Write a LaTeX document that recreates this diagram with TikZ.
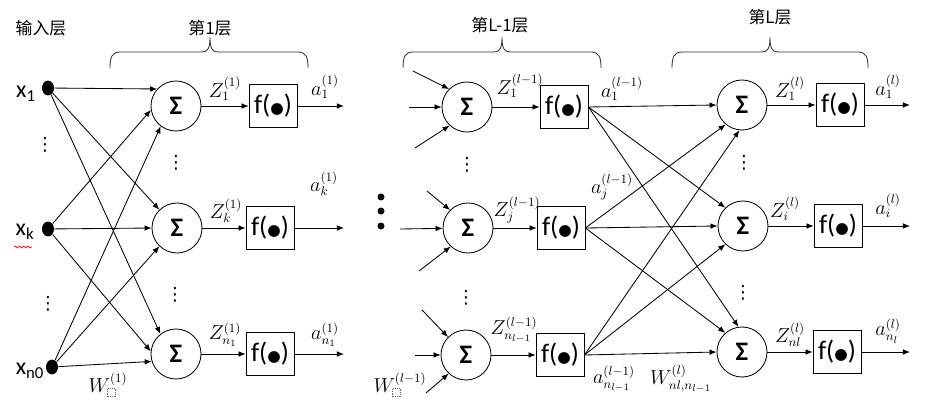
\documentclass[tikz,border=0pt]{standalone}
\usepackage[no-math]{fontspec}
\setmainfont{Carlito}
\newfontfamily\cjk{Noto Sans CJK SC}
\newfontfamily\dejavu{DejaVu Sans}
\usetikzlibrary{arrows.meta,shapes.geometric,decorations.pathmorphing}
\newcommand\phbox{\tikz[baseline=0pt]\draw[densely dotted,line width=0.3pt,black!60] (0pt,-1pt) rectangle (5.5pt,5pt);}
\newcommand\fdot{f({\dejavu\fontsize{11}{11}\selectfont ●})}
\tikzset{
  sum/.style={circle,draw,minimum size=1.25cm,inner sep=0pt,font=\fontsize{19}{20}\selectfont\bfseries},
  act/.style={rectangle,draw,minimum width=1.2cm,minimum height=1.075cm,inner sep=0pt,font=\fontsize{19}{20}\selectfont},
  inp/.style={ellipse,fill=black,minimum width=0.3cm,minimum height=0.37cm,inner sep=0pt},
  xlab/.style={font=\fontsize{17}{20}\selectfont,inner sep=0pt},
  lab/.style={font=\fontsize{13.5}{15}\selectfont,inner sep=0pt},
  head/.style={font=\cjk\large,inner sep=0pt},
  vdot/.style={font=\dejavu\fontsize{13}{13}\selectfont,inner sep=0pt}
}
\begin{document}
\begin{tikzpicture}[x=0.025cm,y=-0.025cm,line width=0.6pt,>={Latex[length=5pt,width=4pt]}]
\useasboundingbox (0,0) rectangle (932,400);
% headings and braces
\node[head] (h0) at (41,28) {输入层};
\node[head] (h1) at (210,28) {第1层};
\node[head] (h2) at (500,25) {第L-1层};
\node[head] (h3) at (770,17) {第L层};
\foreach \l/\r/\t in {110/308/210, 403/601/502, 672/868/770}
  \draw[black!80] (\l,68) .. controls (\l,57) and ({\l+2},52) .. ({\l+10},52) -- ({\t-8},52)
    .. controls ({\t-2},52) and (\t,48) .. (\t,37) .. controls (\t,48) and ({\t+2},52) .. ({\t+8},52)
    -- ({\r-10},52) .. controls ({\r-2},52) and (\r,57) .. (\r,68);
% input layer
\node[inp] (x1) at (48,88) {};
\node[inp] (xk) at (48,229) {};
\node[inp] (xn) at (52,367) {};
\node[xlab] (lx1) at (26,94) {x\textsubscript{1}};
\node[xlab] (lxk) at (25,232) {x\textsubscript{k}};
\node[xlab] (lxn) at (30,371) {x\textsubscript{n0}};
\draw[red,line width=0.5pt,decorate,decoration={snake,amplitude=0.7pt,segment length=3pt}] (14,247) -- (32,247);
\node[vdot] (v0) at (45,145) {⋮};
\node[vdot] (v1) at (48,304) {⋮};
% layer 1
\node[sum] (s1) at (176,106) {Σ};
\node[sum] (s2) at (177,228) {Σ};
\node[sum] (s3) at (176,354) {Σ};
\node[act] (b1) at (273,106) {\fdot};
\node[act] (b2) at (270,228) {\fdot};
\node[act] (b3) at (270,354) {\fdot};
\node[vdot] (v2) at (176,163) {⋮};
\node[vdot] (v3) at (175,295) {⋮};
\foreach \a/\b in {x1/s1.138, xk/s1.189, xn/s1.233, x1/s2.134, xk/s2.180, xn/s2.226, x1/s3.128, xk/s3.174, xn/s3.197}
  \draw[->] (\a) -- (\b);
\foreach \s/\b/\y in {s1/b1/106, s2/b2/228, s3/b3/354} {
  \coordinate (o\b) at (344,\y);
  \draw[->] (\s) -- (\b);
  \draw[->] (\b) -- (o\b);
}
\node[lab] (z11) at (225,89) {$Z_1^{(1)}$};
\node[lab] (a11) at (325,87) {$a_1^{(1)}$};
\node[lab] (zk1) at (226,211) {$Z_k^{(1)}$};
\node[lab] (ak1) at (324,184) {$a_k^{(1)}$};
\node[lab] (zn1) at (225,335) {$Z_{n_1}^{(1)}$};
\node[lab] (an1) at (325,335) {$a_{n_1}^{(1)}$};
\node[lab] (w1) at (108,385) {$W_{\phbox}^{(1)}$};
% layer L-1
\foreach \y in {197,211,226}
  \fill (381,\y) circle (3.5);
\node[sum] (t1) at (467,107) {Σ};
\node[sum] (tj) at (468,228) {Σ};
\node[sum] (tn) at (466,355) {Σ};
\node[act] (c1) at (564,107) {\fdot};
\node[act] (cj) at (561,228) {\fdot};
\node[act] (cn) at (560,355) {\fdot};
\node[vdot] (v4) at (467,165) {⋮};
\node[vdot] (v5) at (466,298) {⋮};
\foreach \n/\ax/\ay/\bx/\by/\cx/\cy in {t1/413/71/409/107/415/148, tj/427/191/400/229/419/271, tn/422/310/415/355/426/393} {
  \coordinate (\n a) at (\ax,\ay);
  \coordinate (\n b) at (\bx,\by);
  \coordinate (\n c) at (\cx,\cy);
  \draw[->] (\n a) -- (\n.135);
  \draw[->] (\n b) -- (\n);
  \draw[->] (\n c) -- (\n.227);
}
\foreach \s/\b in {t1/c1, tj/cj, tn/cn}
  \draw[->] (\s) -- (\b);
\node[lab] (z1l) at (520,86) {$Z_1^{(l-1)}$};
\node[lab] (a1l) at (622,89) {$a_1^{(l-1)}$};
\node[lab] (zjl) at (517,210) {$Z_j^{(l-1)}$};
\node[lab] (ajl) at (612,187) {$a_j^{(l-1)}$};
\node[lab] (znl) at (514,330) {$Z_{n_{l-1}}^{(l-1)}$};
\node[lab] (anl) at (614,379) {$a_{n_{l-1}}^{(l-1)}$};
\node[lab] (wl) at (400,385) {$W_{\phbox}^{(l-1)}$};
\node[lab] (wnl) at (681,379) {$W_{nl,n_{l-1}}^{(l)}$};
% layer L
\node[sum] (u1) at (742,105) {Σ};
\node[sum] (ui) at (743,226) {Σ};
\node[sum] (un) at (742,352) {Σ};
\node[act] (d1) at (840,105) {\fdot};
\node[act] (di) at (838,226) {\fdot};
\node[act] (dn) at (837,352) {\fdot};
\node[vdot] (v6) at (744,163) {⋮};
\node[vdot] (v7) at (743,293) {⋮};
\foreach \a/\b in {c1/u1.180, c1/ui.134, c1/un.98, cj/u1.230, cj/ui.180, cj/un.131, cn/u1.264, cn/ui.226, cn/un.180}
  \draw[->] (\a.east) -- (\b);
\foreach \s/\b/\y in {u1/d1/105, ui/di/226, un/dn/352} {
  \coordinate (o\b) at (910,\y);
  \draw[->] (\s) -- (\b);
  \draw[->] (\b) -- (o\b);
}
\node[lab] (z1L) at (790,89) {$Z_1^{(l)}$};
\node[lab] (a1L) at (888,87) {$a_1^{(l)}$};
\node[lab] (ziL) at (785,209) {$Z_i^{(l)}$};
\node[lab] (aiL) at (888,206) {$a_i^{(l)}$};
\node[lab] (znL) at (790,335) {$Z_{nl}^{(l)}$};
\node[lab] (anL) at (888,331) {$a_{n_l}^{(l)}$};
\end{tikzpicture}
\end{document}
